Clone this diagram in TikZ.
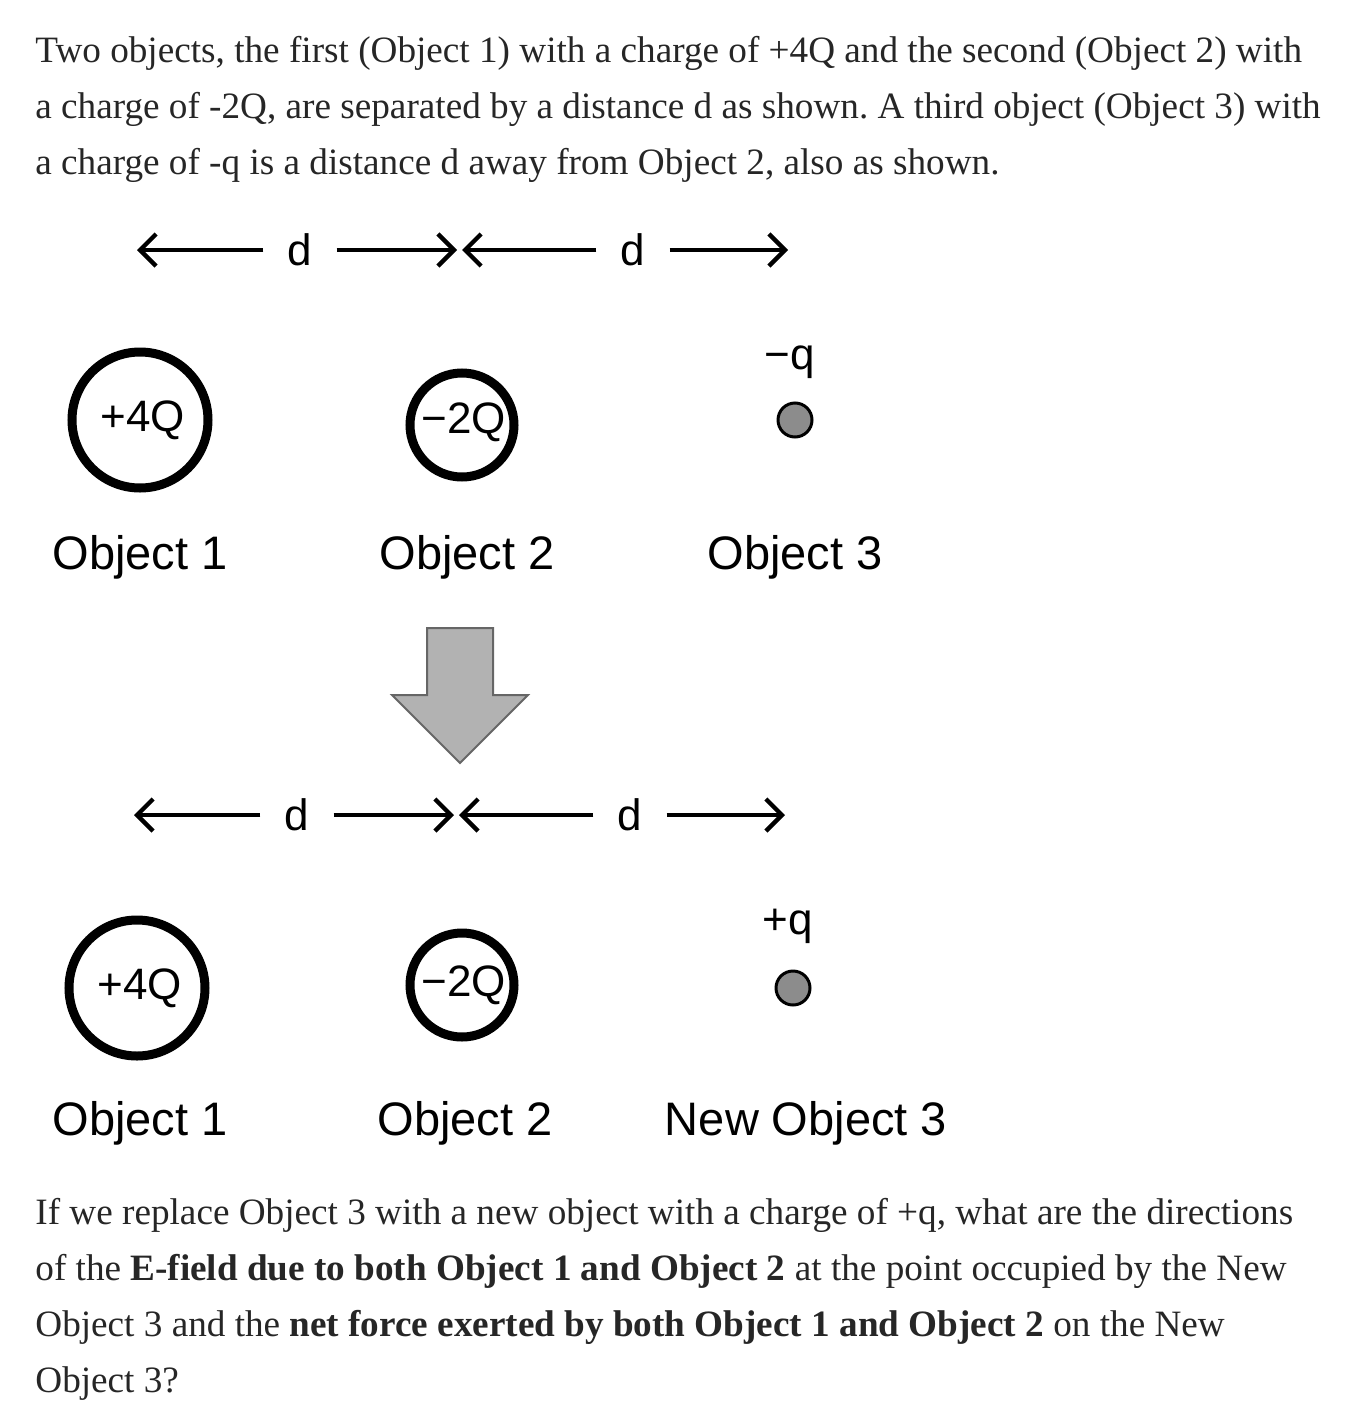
\documentclass[tikz,border=0pt]{standalone}
\usepackage{fontspec}
\setmainfont{Liberation Serif}
\newfontfamily\arial{Liberation Sans}
\usetikzlibrary{arrows.meta}
\frenchspacing
\begin{document}
\begin{tikzpicture}[x=0.5pt,y=-0.5pt,
  para/.style={anchor=base west,inner sep=0,font=\fontsize{18.6pt}{22pt}\selectfont,text=black!85},
  lab/.style={inner sep=0,font=\arial\fontsize{23.5pt}{26pt}\selectfont},
  chg/.style={inner sep=0,font=\arial\fontsize{22pt}{24pt}\selectfont},
  dim/.style={line width=2.2pt,-{Straight Barb[length=8pt,width=16pt,line width=2.2pt]}},
  big/.style={draw,line width=4.5pt,circle},
  small/.style={draw,line width=1.5pt,circle,fill=black!45,minimum size=17pt,inner sep=0}]
\useasboundingbox (0,0) rectangle (1344,1424);
\node[para] (t1) at (35,62) {Two objects, the first (Object 1) with a charge of +4Q and the second (Object 2) with};
\node[para] (t2) at (35,118) {a charge of -2Q, are separated by a distance d as shown. A third object (Object 3) with};
\node[para] (t3) at (35,174) {a charge of -q is a distance d away from Object 2, also as shown.};
\foreach \y/\dx/\r in {250/0/a,815/-3/b}{
 \node[chg] (d1\r) at (300+\dx,\y) {d};
 \node[chg] (d2\r) at (633+\dx,\y) {d};
 \coordinate (l1\r) at (137+\dx,\y); \coordinate (r1\r) at (457+\dx,\y);
 \coordinate (l2\r) at (462+\dx,\y); \coordinate (r2\r) at (788+\dx,\y);
 \draw[dim] ([xshift=-12pt]d1\r.west) -- (l1\r);
 \draw[dim] ([xshift=12pt]d1\r.east) -- (r1\r);
 \draw[dim] ([xshift=-12pt]d2\r.west) -- (l2\r);
 \draw[dim] ([xshift=12pt]d2\r.east) -- (r2\r);
}
\node[big,minimum size=68pt] (c1a) at (140,420) {};
\node[chg] (q1a) at (143,420) {+4Q};
\node[big,minimum size=52pt] (c2a) at (462,425) {};
\node[chg] (q2a) at (464,422) {−2Q};
\node[small] (s3a) at (795,420) {};
\node[chg] (q3a) at (790,362) {−q};
\node[lab] (o1a) at (140,557) {Object 1};
\node[lab] (o2a) at (467,557) {Object 2};
\node[lab] (o3a) at (795,557) {Object 3};
\draw[fill=black!30,draw=black!60,line width=1pt] (427,628) -- (493,628) -- (493,695) -- (528,695) -- (460,763) -- (392,695) -- (427,695) -- cycle;
\node[big,minimum size=68pt] (c1b) at (137,988) {};
\node[chg] (q1b) at (140,988) {+4Q};
\node[big,minimum size=52pt] (c2b) at (462,985) {};
\node[chg] (q2b) at (464,985) {−2Q};
\node[small] (s3b) at (793,988) {};
\node[chg] (q3b) at (788,926) {+q};
\node[lab] (o1b) at (140,1123) {Object 1};
\node[lab] (o2b) at (465,1123) {Object 2};
\node[lab] (o3b) at (806,1123) {New Object 3};
\node[para] (b1) at (35,1224) {If we replace Object 3 with a new object with a charge of +q, what are the directions};
\node[para] (b2) at (35,1280) {of the \textbf{E-field due to both Object 1 and Object 2} at the point occupied by the New};
\node[para] (b3) at (35,1336) {Object 3 and the \textbf{net force exerted by both Object 1 and Object 2} on the New};
\node[para] (b4) at (35,1392) {Object 3?};
\end{tikzpicture}
\end{document}
